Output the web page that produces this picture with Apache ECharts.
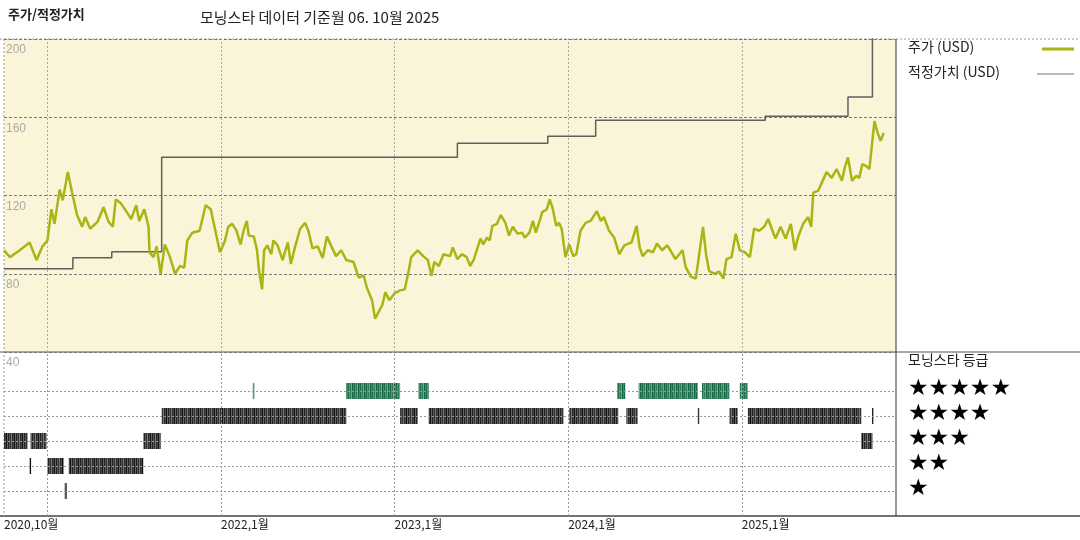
<!DOCTYPE html>
<html>
<head>
<meta charset="utf-8">
<script src="https://cdn.jsdelivr.net/npm/echarts@6/dist/echarts.min.js"></script>
<style>
html,body{margin:0;padding:0;background:#fff;}
#chart{width:1080px;height:540px;}
</style>
</head>
<body>
<div id="chart"></div>
<script>
// x 값은 2020년 10월부터 센 개월 수
var priceM = [0,0.41,1.09,1.77,2.25,2.66,3.0,3.28,3.49,3.85,4.06,4.41,4.69,5.05,5.40,5.61,5.96,6.46,6.88,7.23,7.52,7.73,8.08,8.58,8.79,9.14,9.35,9.70,9.99,10.06,10.34,10.55,10.83,11.12,11.47,11.82,12.17,12.46,12.67,13.02,13.52,13.94,14.29,14.58,14.93,15.28,15.50,15.78,16.07,16.35,16.56,16.78,16.92,17.27,17.49,17.63,17.84,17.98,18.20,18.48,18.62,18.91,19.26,19.62,19.83,20.11,20.47,20.82,21.04,21.32,21.68,22.03,22.32,22.60,22.95,23.31,23.66,24.16,24.52,24.87,25.08,25.44,25.65,25.93,26.15,26.36,26.64,27.0,27.38,27.70,27.96,28.15,28.60,28.98,29.30,29.55,29.74,30.06,30.38,30.83,31.02,31.15,31.34,31.66,31.98,32.23,32.49,32.74,32.94,33.13,33.38,33.57,33.76,34.08,34.34,34.66,34.91,35.17,35.49,35.81,36.0,36.32,36.57,36.76,36.96,37.21,37.53,37.72,37.91,38.17,38.36,38.55,38.81,39.07,39.35,39.56,39.85,40.20,40.55,40.98,41.26,41.47,41.82,42.18,42.53,42.88,43.38,43.73,43.94,44.15,44.50,44.86,45.14,45.49,45.85,46.06,46.41,46.90,47.12,47.47,47.82,48.03,48.32,48.53,48.74,49.09,49.45,49.73,49.94,50.29,50.58,50.86,51.21,51.56,51.85,52.20,52.55,52.83,53.12,53.33,53.68,54.03,54.39,54.67,54.88,55.24,55.59,55.80,55.94,56.29,56.65,56.86,57.21,57.56,57.92,58.13,58.34,58.62,58.90,59.12,59.33,59.61,59.82,60.17,60.39,60.60,60.81];
var priceV = [92,88.5,92,96,87,94,97,113,105.5,123,117.5,132,122,110,104,109,103,106.5,114,106.5,104,118,116,110.5,108,115,107,113,104,91,88.5,94,80,95,88.5,80,84,83,97,101,102,115,113,103,91,97,104,105.5,102,95,102,107,99.5,99,92,81.5,72,92,94.5,90,97,94.5,87,96,85,93.5,103,106,102,93,94,88,99,94.5,89,92,87,86,78,79,73,66.5,57,61,64,70.5,66.5,70,71.5,72,81,88.5,92,89,87,79,86,84,90,89,93.5,93,87.5,90,88.5,84,87.5,93.5,98,95,98.5,97,104.5,105.5,110,106,99.5,104,100.5,101,98.5,101,107,101,105.5,111.5,113,118,114,104.5,106,103,88.5,95,89,90,102,106,107,112,107,109,102,98.5,90,94.5,96,104.5,93.5,89,92,91,95.5,92,94.5,92,87.5,92,83.5,78.5,77.5,88.5,104,90,81.5,80,81,77.5,87.5,88.5,100.5,92,91,88.5,103,102,104,108,102,98,104,98,105.5,92,98.5,105.5,109,104,121.5,122.5,128.5,132,129,133.5,127.5,134.5,139.5,127.5,130,129,136,135,133.5,158,152,148,152];

var fairM = [0,4.76,7.45,10.9,31.34,37.59,40.9,52.62,58.34,60.03];
var fairV = [82.6,88.2,91.3,139.5,146.7,150.3,158.5,160.5,170.3,215];

// 등급 구간: [시작, 끝, 별 수]
var ratingDark = [[0,1.64,3],[1.84,2.93,3],[9.63,10.83,3],[59.26,60.03,3],
  [1.77,1.84,2],[3.0,4.13,2],[4.48,9.63,2],[4.2,4.34,1],
  [10.9,23.66,4],[27.38,28.6,4],[29.36,38.68,4],[39.07,42.46,4],[43.02,43.8,4],[47.96,48.03,4],[50.15,50.72,4],[51.42,59.26,4],[60.0,60.07,4]];
var ratingGreen = [[17.2,17.27,5],[23.66,27.38,5],[28.66,29.36,5],[42.39,42.95,5],[43.87,47.96,5],[48.25,50.15,5],[50.86,51.42,5]];

var tickM = [0,3,15,27,39,51];
var tickLabels = ['2020,10월','2021,1월','2022,1월','2023,1월','2024,1월','2025,1월'];
var yearLines = [3,15,27,39,51];
var starRows = ['★★★★★','★★★★','★★★','★★','★'];

var FONT = '"Noto Sans CJK KR", sans-serif';

function stripe(cols) {
    var c = document.createElement('canvas');
    c.width = cols.length; c.height = 4;
    var ctx = c.getContext('2d');
    for (var i = 0; i < cols.length; i++) {
        ctx.fillStyle = cols[i];
        ctx.fillRect(i, 0, 1, 4);
    }
    return {image: c, repeat: 'repeat'};
}
var darkFill = stripe(['#222','#555','#333','#777','#2a2a2a','#4a4a4a','#111','#666']);
var greenFill = stripe(['#1e6e4c','#4f9a78','#2a7d58','#6aab8c','#1a6345','#3f8c69']);

function zip(a, b) {
    var r = [];
    for (var i = 0; i < a.length; i++) r.push([a[i], b[i]]);
    return r;
}

function renderSeg(fill) {
    return function (params, api) {
        var s = api.coord([api.value(0), api.value(2)]);
        var e = api.coord([api.value(1), api.value(2)]);
        return {
            type: 'rect',
            shape: {x: s[0], y: s[1] - 8, width: Math.max(e[0] - s[0], 1.5), height: 16},
            style: {fill: fill}
        };
    };
}

var vLines = yearLines.map(function (m) { return {xAxis: m}; });

var chart = echarts.init(document.getElementById('chart'));
var graphics = [
    {type: 'text', left: 8, top: 8, style: {text: '주가/적정가치', font: 'bold 13px ' + FONT, fill: '#222'}},
    {type: 'text', left: 200, top: 10, style: {text: '모닝스타 데이터 기준월 06. 10월 2025', font: '15px ' + FONT, fill: '#222'}},
    {type: 'line', shape: {x1: 0, y1: 39, x2: 1080, y2: 39}, style: {stroke: '#999', lineDash: [2, 2]}},
    {type: 'line', shape: {x1: 0, y1: 352, x2: 1080, y2: 352}, style: {stroke: '#555'}},
    {type: 'line', shape: {x1: 0, y1: 516, x2: 1080, y2: 516}, style: {stroke: '#444', lineWidth: 1.5}},
    {type: 'line', shape: {x1: 896, y1: 39, x2: 896, y2: 516}, style: {stroke: '#333'}},
    {type: 'line', shape: {x1: 4, y1: 39, x2: 4, y2: 516}, style: {stroke: '#999', lineDash: [2, 2]}},
    {type: 'text', left: 908, top: 40, style: {text: '주가 (USD)', font: '14px ' + FONT, fill: '#222'}},
    {type: 'line', shape: {x1: 1042, y1: 49, x2: 1074, y2: 49}, style: {stroke: '#a9b415', lineWidth: 3}},
    {type: 'text', left: 908, top: 65, style: {text: '적정가치 (USD)', font: '14px ' + FONT, fill: '#222'}},
    {type: 'line', shape: {x1: 1037, y1: 74, x2: 1074, y2: 74}, style: {stroke: '#777', lineWidth: 1.2}},
    {type: 'text', left: 908, top: 353, style: {text: '모닝스타 등급', font: '14px ' + FONT, fill: '#222'}}
];
for (var i = 0; i < starRows.length; i++) {
    graphics.push({type: 'text', left: 908, top: 378 + i * 25, style: {text: starRows[i], font: '23px "DejaVu Sans", sans-serif', fill: '#000'}});
}

var option = {
    animation: false,
    backgroundColor: '#fff',
    grid: [
        {left: 4, top: 39, width: 892, height: 313, show: true, backgroundColor: '#faf5d8', borderWidth: 0},
        {left: 4, top: 352, width: 892, height: 164}
    ],
    xAxis: [
        {gridIndex: 0, type: 'value', min: 0, max: 61.66, show: false},
        {gridIndex: 1, type: 'value', min: 0, max: 61.66,
         axisLine: {show: false}, axisTick: {show: false}, splitLine: {show: false},
         axisLabel: {customValues: tickM, showMinLabel: true, hideOverlap: false, align: 'left', margin: 2,
             color: '#222', fontSize: 12, fontFamily: FONT,
             formatter: function (v) { var k = tickM.indexOf(v); return k >= 0 ? tickLabels[k] : ''; }}}
    ],
    yAxis: [
        {gridIndex: 0, type: 'value', min: 40, max: 200, interval: 40,
         axisLine: {show: false}, axisTick: {show: false},
         axisLabel: {inside: true, verticalAlign: 'top', margin: 2, padding: [5, 0, 0, 0], color: '#aaa', fontSize: 12,
             formatter: function (v) { return v; }},
         splitLine: {lineStyle: {color: '#777', type: [3, 2]}}},
        {gridIndex: 1, type: 'value', min: 0, max: 6.56, show: false}
    ],
    series: [
        {type: 'line', xAxisIndex: 0, yAxisIndex: 0, data: zip(fairM, fairV), step: 'end', symbol: 'none',
         lineStyle: {color: '#5f5f5f', width: 1.5}, clip: true,
         markLine: {silent: true, symbol: 'none', label: {show: false}, data: vLines,
             lineStyle: {color: '#aaa', type: [2, 2], width: 1}}},
        {type: 'line', xAxisIndex: 0, yAxisIndex: 0, data: zip(priceM, priceV), symbol: 'none',
         lineStyle: {color: '#a9b415', width: 2.5}},
        {type: 'custom', xAxisIndex: 1, yAxisIndex: 1, renderItem: renderSeg(darkFill), data: ratingDark,
         encode: {x: [0, 1], y: 2},
         markLine: {silent: true, symbol: 'none', label: {show: false},
             data: vLines.concat([{yAxis: 1}, {yAxis: 2}, {yAxis: 3}, {yAxis: 4}, {yAxis: 5}]),
             lineStyle: {color: '#999', type: [2, 2], width: 1}}},
        {type: 'custom', xAxisIndex: 1, yAxisIndex: 1, renderItem: renderSeg(greenFill), data: ratingGreen,
         encode: {x: [0, 1], y: 2}}
    ],
    graphic: graphics
};
chart.setOption(option);
</script>
</body>
</html>
